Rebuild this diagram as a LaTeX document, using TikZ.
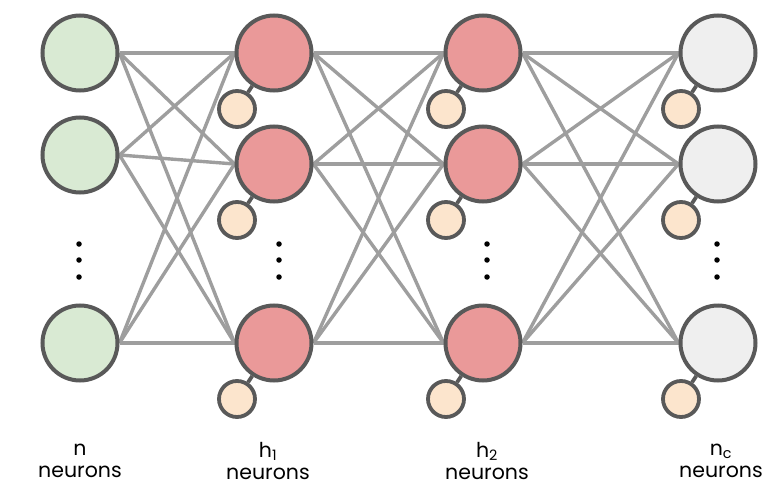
\documentclass[tikz,border=0pt]{standalone}
\usepackage{fontspec}
\setmainfont{Poppins}
\usetikzlibrary{backgrounds}

\definecolor{inputgreen}{HTML}{D9EAD3}
\definecolor{hiddenred}{HTML}{EA9999}
\definecolor{outputgray}{HTML}{EFEFEF}
\definecolor{biasorange}{HTML}{FCE5CD}
\definecolor{rimgray}{HTML}{595959}
\definecolor{linkgray}{HTML}{9E9E9E}

\begin{document}
\begin{tikzpicture}[x=1pt, y=-1pt,
    neuron/.style={circle, draw=rimgray, line width=4pt,
                   minimum size=75pt, inner sep=0pt},
    bias/.style={circle, draw=rimgray, line width=3.8pt, fill=biasorange,
                 minimum size=36pt, inner sep=0pt},
    link/.style={draw=linkgray, line width=3.4pt},
    vdot/.style={circle, fill=black, inner sep=0pt, minimum size=5.5pt},
    layertext/.style={align=center, font=\fontsize{20.5}{22}\selectfont}]
  \useasboundingbox (0,0) rectangle (782,503);

  % The four layers: name, x position, height of the middle row, fill
  \foreach \name/\x/\ymid/\col in {I/80/155/inputgreen, A/274/164/hiddenred,
                                   B/483/164/hiddenred, O/718/164/outputgray}
  {
    \node[neuron, fill=\col] (\name1) at (\x,53) {};
    \node[neuron, fill=\col] (\name2) at (\x,\ymid) {};
    \node[neuron, fill=\col] (\name3) at (\x,343) {};
  }

  % Every neuron after the input layer gets a small bias circle
  \foreach \name in {A,B,O}
    \foreach \i in {1,2,3}
    {
      \node[bias] (\name\i-b) at ([shift={(-37,56)}]\name\i.center) {};
      \draw[rimgray, line width=3.8pt] (\name\i-b) -- (\name\i);
    }

  % Fully connected links, drawn behind the circles
  \begin{scope}[on background layer]
    \foreach \l/\r in {I/A, A/B, B/O}
      \foreach \i in {1,2,3}
        \foreach \j in {1,2,3}
          \draw[link] (\l\i.east) -- (\r\j.west);
  \end{scope}

  % Vertical dots between the second and last row
  \foreach \d/\x in {I/79, A/279, B/487, O/717}
    \foreach \y [count=\k] in {244,260,277}
      \node[vdot] (\d dot\k) at (\x,\y) {};

  % Layer sizes under the columns
  \node[layertext] (Itext) at (80,461) {n\\neurons};
  \node[layertext] (Atext) at (268,461) {h\textsubscript{1}\\neurons};
  \node[layertext] (Btext) at (487,461) {h\textsubscript{2}\\neurons};
  \node[layertext] (Otext) at (721,461) {n\textsubscript{c}\\neurons};
\end{tikzpicture}
\end{document}
